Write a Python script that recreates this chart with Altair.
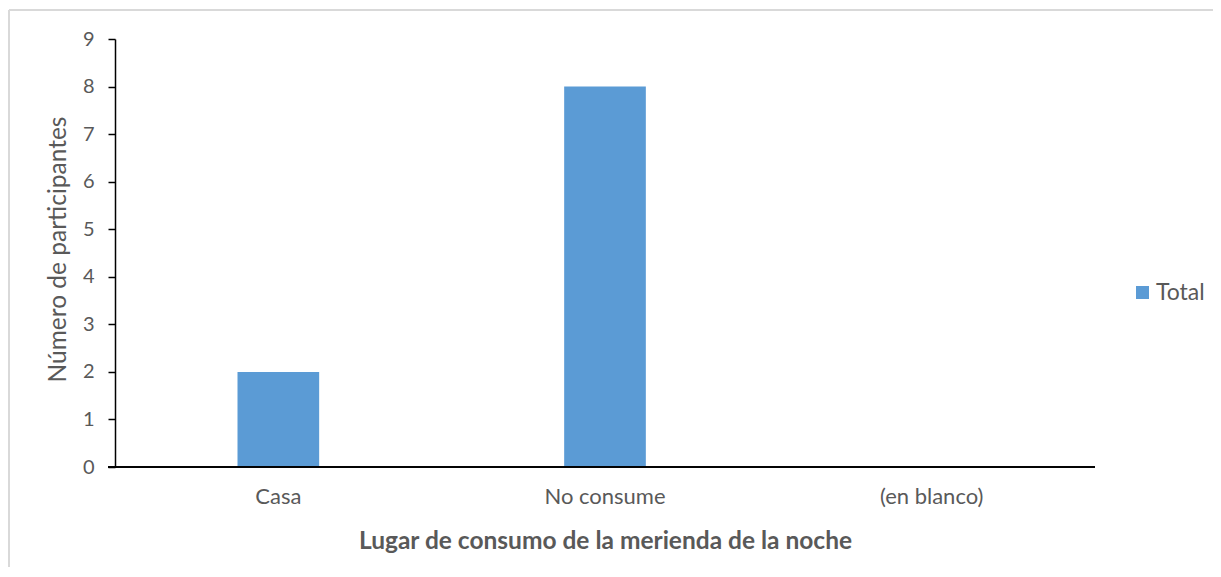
import altair as alt
import pandas as pd

categories = ["Casa", "No consume", "(en blanco)"]
values = [2, 8, 0]
series = ["Total", "Total", "Total"]

df = pd.DataFrame({"cat": categories, "val": values, "serie": series})

FONT = "Lato"
GRAY = "#595959"

bars = alt.Chart(df).mark_bar(width=alt.RelativeBandSize(0.25), color="#5B9BD5").encode(
    x=alt.X("cat:N", sort=categories,
            scale=alt.Scale(paddingInner=0, paddingOuter=0),
            axis=alt.Axis(title="Lugar de consumo de la merienda de la noche",
                          labelAngle=0, ticks=False, domain=False,
                          labelFontSize=22, labelColor=GRAY, labelFont=FONT,
                          labelPadding=19,
                          titleFontSize=24.5, titleFont=FONT, titleFontWeight="bold",
                          titleColor=GRAY, titlePadding=22)),
    y=alt.Y("val:Q", scale=alt.Scale(domain=[0, 9], nice=False),
            axis=alt.Axis(title="Número de participantes", values=list(range(10)),
                          grid=False, domainColor="black", domainWidth=1.5,
                          tickColor="black", tickSize=7, tickWidth=1.5,
                          labelFontSize=20, labelColor=GRAY, labelFont=FONT,
                          labelPadding=14,
                          titleFontSize=24.5, titleFont=FONT, titleFontWeight="normal",
                          titleColor=GRAY, titleX=-57, titleY=210,
                          titleAngle=270, titleAlign="center", titleBaseline="middle")),
    fill=alt.Fill("serie:N", scale=alt.Scale(range=["#5B9BD5"]),
                  legend=alt.Legend(title=None, orient="none", legendX=1016, legendY=242,
                                    symbolType="square", symbolSize=169,
                                    symbolStrokeWidth=0, labelFontSize=23,
                                    labelFont=FONT, labelColor=GRAY, padding=0,
                                    labelOffset=2)),
)

xaxis = alt.Chart(df).mark_rule(color="black", strokeWidth=1.5).encode(
    x=alt.value(-7), x2=alt.value(980), y=alt.value(428)
)

border_left = alt.Chart(df).mark_rule(color="#d9d9d9", strokeWidth=2, clip=False).encode(
    x=alt.value(-106), y=alt.value(-29), y2=alt.value(540)
)
border_top = alt.Chart(df).mark_rule(color="#d9d9d9", strokeWidth=2, clip=False).encode(
    x=alt.value(-106), x2=alt.value(1100), y=alt.value(-29)
)

chart = alt.layer(border_left, border_top, bars, xaxis).properties(
    width=980, height=428,
    autosize=alt.AutoSizeParams(type="none"),
    padding={"left": 107, "top": 31, "right": 118, "bottom": 100},
).configure_view(stroke=None)

chart.save("out.html", embed_options={"renderer": "svg", "actions": False})
